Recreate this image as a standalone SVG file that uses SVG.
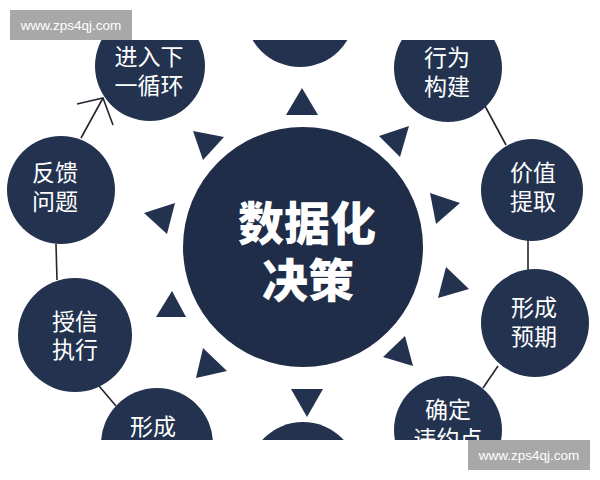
<svg xmlns="http://www.w3.org/2000/svg" width="600" height="480" viewBox="0 0 600 480">
<defs>
<clipPath id="crop"><rect x="0" y="40" width="600" height="400"/></clipPath>
<style>
.node{fill:#22324f}
.center{fill:#1f2d48}
.tri{fill:#22324f}
.lbl{font-family:"Noto Sans CJK SC","Noto Sans",sans-serif;font-size:23px;fill:#ffffff;text-anchor:middle}
.big{font-family:"Noto Sans CJK SC","Noto Sans",sans-serif;font-size:46px;font-weight:900;fill:#ffffff;text-anchor:middle}
.conn{stroke:#23262f;stroke-width:1.6;fill:none}
.wm{fill:#a8a8a8}
.wmt{font-family:"Liberation Sans",Arial,sans-serif;font-size:13.5px;fill:#ffffff;text-anchor:middle}
</style>
</defs>
<rect width="600" height="480" fill="#ffffff"/>
<g clip-path="url(#crop)">
<g id="connectors">
<line class="conn" x1="81" y1="138" x2="103" y2="98"/>
<path class="conn" d="M77,104 L103,98 L113,125"/>
<line class="conn" x1="56" y1="244" x2="57" y2="280"/>
<line class="conn" x1="99" y1="386" x2="116" y2="406"/>
<line class="conn" x1="483" y1="388" x2="498" y2="366"/>
<line class="conn" x1="528" y1="238" x2="528" y2="272"/>
<line class="conn" x1="485" y1="106" x2="506" y2="145"/>
</g>
<g id="triangles">
<polygon class="tri" points="302,88 286,115 318,115"/>
<polygon class="tri" points="193,131 224,137 203,160"/>
<polygon class="tri" points="409,126 379,136 400,157"/>
<polygon class="tri" points="144,213 175,203 167,234"/>
<polygon class="tri" points="172,291 156,317 186,317"/>
<polygon class="tri" points="430,193 460,203 436,224"/>
<polygon class="tri" points="446,267 469,289 438,298"/>
<polygon class="tri" points="203,348 227,371 196,378"/>
<polygon class="tri" points="291,389 323,389 307,417"/>
<polygon class="tri" points="405,336 413,366 383,357"/>
</g>
<g id="center-node">
<circle class="center" cx="303" cy="247" r="120"/>
<text class="big"><tspan x="307" y="240">数据化</tspan><tspan x="308" y="297">决策</tspan></text>
</g>
<g id="node-top"><circle class="node" cx="300" cy="12" r="55"/></g>
<g id="node-next-cycle">
<circle class="node" cx="150" cy="66" r="55"/>
<text class="lbl"><tspan x="149" y="65">进入下</tspan><tspan x="149" y="94">一循环</tspan></text>
</g>
<g id="node-behavior">
<circle class="node" cx="448" cy="68" r="54"/>
<text class="lbl"><tspan x="447" y="66">行为</tspan><tspan x="447" y="95">构建</tspan></text>
</g>
<g id="node-value">
<circle class="node" cx="532" cy="190" r="51"/>
<text class="lbl"><tspan x="533" y="181">价值</tspan><tspan x="533" y="210">提取</tspan></text>
</g>
<g id="node-expect">
<circle class="node" cx="535" cy="323" r="54"/>
<text class="lbl"><tspan x="534" y="316">形成</tspan><tspan x="534" y="345">预期</tspan></text>
</g>
<g id="node-default">
<circle class="node" cx="448" cy="430" r="54"/>
<text class="lbl"><tspan x="448" y="418">确定</tspan><tspan x="448" y="447">违约点</tspan></text>
</g>
<g id="node-bottom"><circle class="node" cx="303" cy="477" r="55"/></g>
<g id="node-form">
<circle class="node" cx="157" cy="444" r="56"/>
<text class="lbl" x="153" y="435">形成</text>
</g>
<g id="node-credit">
<circle class="node" cx="75" cy="335" r="57"/>
<text class="lbl"><tspan x="75" y="330">授信</tspan><tspan x="75" y="358">执行</tspan></text>
</g>
<g id="node-feedback">
<circle class="node" cx="61" cy="190" r="54"/>
<text class="lbl"><tspan x="55" y="181">反馈</tspan><tspan x="55" y="210">问题</tspan></text>
</g>
</g>
<g id="watermark-top">
<rect class="wm" x="10" y="10" width="122" height="30"/>
<text class="wmt" x="71" y="30">www.zps4qj.com</text>
</g>
<g id="watermark-bottom">
<rect class="wm" x="468" y="440" width="122" height="30"/>
<text class="wmt" x="529" y="460">www.zps4qj.com</text>
</g>
</svg>
